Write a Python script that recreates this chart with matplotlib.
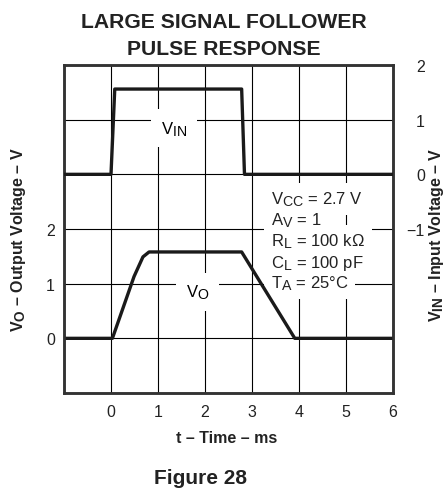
import matplotlib
matplotlib.use("Agg")
import matplotlib.pyplot as plt
import matplotlib._mathtext as mathtext_internals

# the datasheet uses nearly full size subscripts
mathtext_internals.SHRINK_FACTOR = 0.85

plt.rcParams['font.family'] = ['Liberation Sans', 'DejaVu Sans']
plt.rcParams['mathtext.fontset'] = 'custom'
plt.rcParams['mathtext.rm'] = 'Liberation Sans'
plt.rcParams['mathtext.bf'] = 'Liberation Sans:bold'

# input pulse (right axis) and output response (left axis)
t_in = [-1.0, 0.0, 0.08, 2.78, 2.84, 6.0]
v_in = [0.0, 0.0, 1.56, 1.56, 0.0, 0.0]

t_out = [-1.0, 0.03, 0.49, 0.68, 0.81, 2.78, 3.91, 6.0]
v_out = [0.0, 0.0, 1.13, 1.49, 1.58, 1.58, 0.0, 0.0]

x_ticks = [-1, 0, 1, 2, 3, 4, 5, 6]
x_labels = ['', '0', '1', '2', '3', '4', '5', '6']
left_ticks = [-1, 0, 1, 2, 3, 4, 5]
left_labels = ['', '0', '1', '2', '', '', '']
right_ticks = [-4, -3, -2, -1, 0, 1, 2]
right_labels = ['', '', '', '\u22121', '0', '1', '2']

conditions = [r'$\mathregular{V_{CC}}$ = 2.7 V',
              r'$\mathregular{A_V}$ = 1',
              r'$\mathregular{R_L}$ = 100 k$\mathregular{\Omega}$',
              r'$\mathregular{C_L}$ = 100 pF',
              r'$\mathregular{T_A}$ = 25°C']

ink = '#222222'

fig = plt.figure(figsize=(4.45, 4.89), dpi=100)
ax = fig.add_axes([64/445, 1 - 394/489, 329/445, 328/489])
ax2 = ax.twinx()

ax.set_xlim(-1, 6)
ax.set_ylim(-1, 5)
ax2.set_ylim(-4, 2)

ax.set_xticks(x_ticks)
ax.set_xticklabels(x_labels, fontsize=11.5)
ax.set_yticks(left_ticks)
ax.set_yticklabels(left_labels, fontsize=11.5)
ax2.set_yticks(right_ticks)
ax2.set_yticklabels(right_labels, fontsize=11.5)
ax.tick_params(axis='y', length=0, pad=6.5, colors=ink)
ax.tick_params(axis='x', length=0, pad=8, colors=ink)
ax2.tick_params(length=0, pad=23, colors=ink)
plt.setp(ax2.get_yticklabels(), ha='right')

ax.grid(True, color='black', linewidth=0.8)
ax.set_axisbelow(True)
for a in (ax, ax2):
    for s in a.spines.values():
        s.set_linewidth(1.8)
        s.set_color('#333333')

ax.plot(t_out, v_out, color='#1a1a1a', linewidth=2.4, solid_joinstyle='round', zorder=4)
ax2.plot(t_in, v_in, color='#1a1a1a', linewidth=2.4, solid_joinstyle='round', zorder=4)

ax2.text(1.34, 0.84, r'$\mathregular{V_{IN}}$', fontsize=12, ha='center', va='center',
         bbox=dict(facecolor='white', edgecolor='none', pad=7), zorder=3)
ax.text(1.84, 0.85, r'$\mathregular{V_O}$', fontsize=12, ha='center', va='center',
        bbox=dict(facecolor='white', edgecolor='none', pad=7), zorder=3)

# white backing first, then the condition text on top so no line hides another
box = dict(facecolor='white', edgecolor='none', pad=5)
for i, line in enumerate(conditions):
    ax.text(3.40, 2.55 - i * 0.385, line, fontsize=12, ha='left', va='center',
            color='white', bbox=box, zorder=3)
for i, line in enumerate(conditions):
    ax.text(3.40, 2.55 - i * 0.385, line, fontsize=12, ha='left', va='center',
            color=ink, zorder=3.5)

fig.text(224/445, 1 - 28/489, 'LARGE SIGNAL FOLLOWER', fontsize=15.2, fontweight='bold',
         ha='center', va='baseline', color=ink)
fig.text(224/445, 1 - 55/489, 'PULSE RESPONSE', fontsize=15.2, fontweight='bold',
         ha='center', va='baseline', color=ink)
fig.text(227/445, 1 - 443/489, 't \u2013 Time \u2013 ms', fontsize=11.5, fontweight='bold',
         ha='center', va='baseline', color=ink)
fig.text(19/445, 1 - 240/489, r'$\mathbf{V_O}$' + ' \u2013 Output Voltage \u2013 V',
         fontsize=11.5, fontweight='bold', rotation=90, ha='center', va='center', color=ink)
fig.text(436/445, 1 - 235/489, r'$\mathbf{V_{IN}}$' + ' \u2013 Input Voltage \u2013 V',
         fontsize=11.5, fontweight='bold', rotation=90, ha='center', va='center', color=ink)
fig.text(201/445, 1 - 484/489, 'Figure 28', fontsize=15, fontweight='bold',
         ha='center', va='baseline', color=ink)

fig.savefig('out.png', dpi=100)
